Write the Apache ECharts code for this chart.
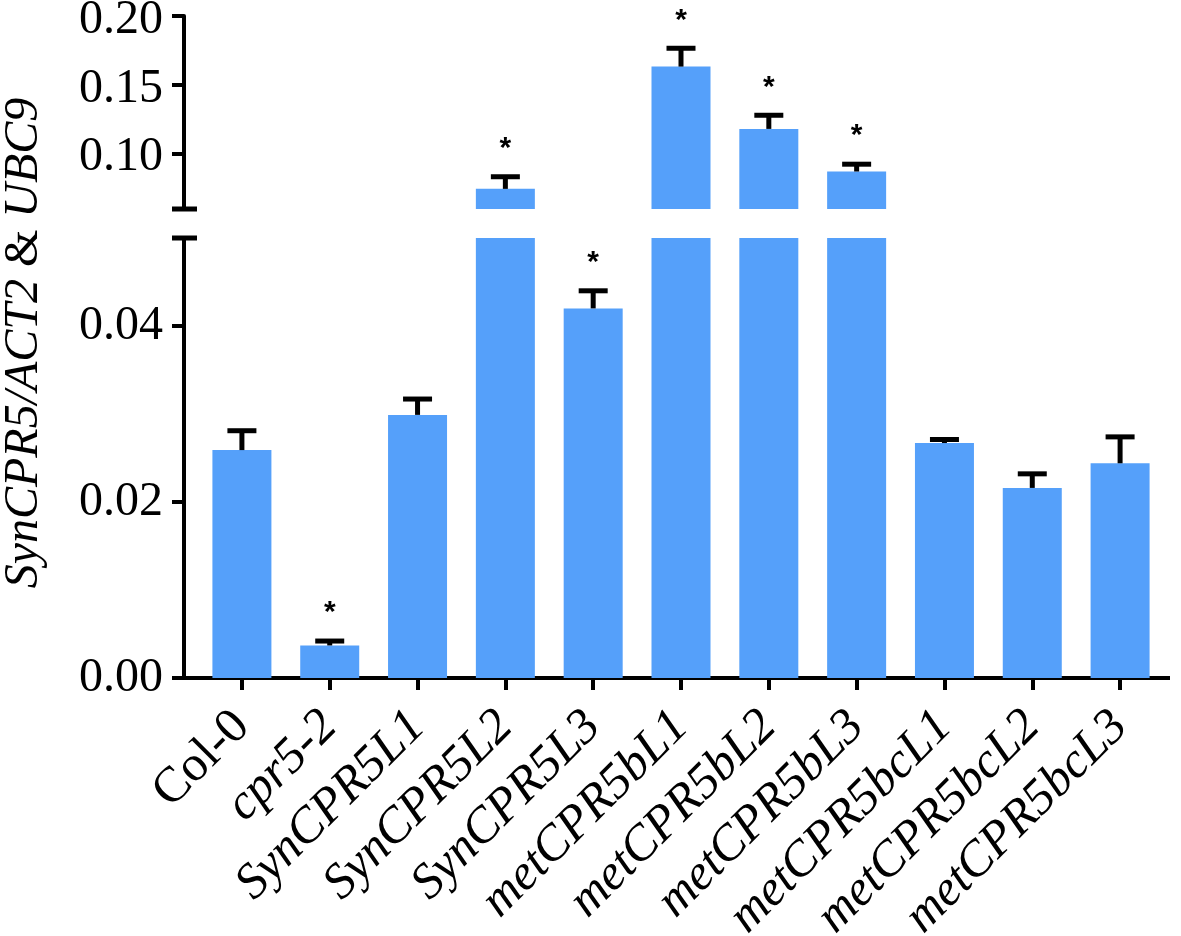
<!DOCTYPE html>
<html><head><meta charset="utf-8">
<script src="https://cdn.jsdelivr.net/npm/echarts@6/dist/echarts.min.js"></script>
<style>html,body{margin:0;padding:0;background:#fff}#c{width:1181px;height:936px}</style>
</head><body><div id="c"></div>
<script>
const categories = ['Col-0','cpr5-2','SynCPR5L1','SynCPR5L2','SynCPR5L3','metCPR5bL1','metCPR5bL2','metCPR5bL3','metCPR5bcL1','metCPR5bcL2','metCPR5bcL3'];
const italicLabel = [false,true,true,true,true,true,true,true,true,true,true];
const means  = [0.0259, 0.0037, 0.0299, 0.0746, 0.0420, 0.1633, 0.1181, 0.0872, 0.0267, 0.0216, 0.0244];
const errors = [0.0022, 0.0005, 0.0018, 0.0088, 0.0020, 0.0133, 0.0099, 0.0053, 0.0004, 0.0016, 0.0030];
const significant = [false,true,false,true,true,true,true,true,false,false,false];
const lowerTicks = [0, 0.02, 0.04];
const upperTicks = [0.10, 0.15, 0.20];
const lowerRange = [0, 0.05];
const upperRange = [0.06, 0.20];

const SERIF = '"Liberation Serif", "Times New Roman", serif';
const BAR_COLOR = '#55a0fa';
const chart = echarts.init(document.getElementById('c'), null, {renderer:'canvas'});

function errItem(range, isUpper) {
  return function (params, api) {
    const i = api.value(0), m = api.value(1), e = api.value(2), s = api.value(3);
    const top = m + e;
    if (isUpper ? (m < range[0]) : (top > range[1])) return null;
    const pBar = api.coord([i, m]);
    const pTop = api.coord([i, top]);
    const capW = 29, capH = 5, stemW = 5;
    const children = [
      {type:'rect', shape:{x:pTop[0]-stemW/2, y:pTop[1], width:stemW, height:pBar[1]-pTop[1]}, style:{fill:'#000'}},
      {type:'rect', shape:{x:pTop[0]-capW/2, y:pTop[1]-capH/2, width:capW, height:capH}, style:{fill:'#000'}}
    ];
    if (s) {
      children.push({type:'text', x:pTop[0], y:pTop[1]-28, style:{text:'*', fill:'#000', font:'bold 30px "Liberation Sans", Arial, sans-serif', align:'center', verticalAlign:'middle'}});
    }
    return {type:'group', children};
  };
}
const errData = means.map((m, i) => [i, m, errors[i], significant[i] ? 1 : 0]);

const yAxisCommon = {
  type:'value', offset:14,
  axisLine:{show:true, lineStyle:{color:'#000', width:4}},
  axisTick:{show:true, length:12, lineStyle:{color:'#000', width:4}},
  splitLine:{show:false},
  axisLabel:{color:'#000', fontFamily:SERIF, fontSize:48, margin:21, formatter: v => v.toFixed(2)}
};

chart.setOption({
  animation:false,
  backgroundColor:'#fff',
  grid:[
    {left:198, right:17, top:16, height:193, containLabel:false, outerBoundsMode:'none'},
    {left:198, right:17, top:238, bottom:258, containLabel:false, outerBoundsMode:'none'}
  ],
  xAxis:[
    {type:'category', gridIndex:0, data:categories, show:false},
    {type:'category', gridIndex:1, data:categories,
      axisLine:{show:false},
      axisTick:{show:true, alignWithLabel:true, length:12, lineStyle:{color:'#000', width:4}},
      axisLabel:{interval:0, rotate:45, margin:41, color:'#000',
        formatter:(v, idx) => (italicLabel[idx] ? '{i|' : '{n|') + v + '}',
        rich:{
          i:{fontFamily:SERIF, fontStyle:'italic', fontSize:50, color:'#000'},
          n:{fontFamily:SERIF, fontSize:50, color:'#000'}
        }}
    }
  ],
  yAxis:[
    Object.assign({}, yAxisCommon, {gridIndex:0, min:upperRange[0], max:upperRange[1],
      axisTick:Object.assign({}, yAxisCommon.axisTick, {customValues:upperTicks}),
      axisLabel:Object.assign({}, yAxisCommon.axisLabel, {customValues:upperTicks,
        formatter: v => '{v|' + v.toFixed(2) + '}',
        rich:{v:{fontFamily:SERIF, fontSize:48, color:'#000', lineHeight:56, verticalAlign:'bottom'}}})}),
    Object.assign({}, yAxisCommon, {gridIndex:1, min:lowerRange[0], max:lowerRange[1],
      axisTick:Object.assign({}, yAxisCommon.axisTick, {customValues:lowerTicks}),
      axisLabel:Object.assign({}, yAxisCommon.axisLabel, {customValues:lowerTicks})})
  ],
  series:[
    {type:'bar', xAxisIndex:0, yAxisIndex:0, barWidth:59, clip:true,
      itemStyle:{color:BAR_COLOR},
      data: means.map(m => m >= upperRange[0] ? m : '-')},
    {type:'bar', xAxisIndex:1, yAxisIndex:1, barWidth:59, clip:true,
      itemStyle:{color:BAR_COLOR},
      data: means},
    {type:'custom', xAxisIndex:0, yAxisIndex:0, renderItem:errItem(upperRange, true), data:errData, z:5, clip:false},
    {type:'custom', xAxisIndex:1, yAxisIndex:1, renderItem:errItem(lowerRange, false), data:errData, z:5, clip:false}
  ]
});

// axis decorations: break caps, x axis line, y title
const axX = 184;
const yUpperBottom = chart.convertToPixel({yAxisIndex:0}, upperRange[0]);
const yLowerTop = chart.convertToPixel({yAxisIndex:1}, lowerRange[1]);
const yZero = chart.convertToPixel({yAxisIndex:1}, lowerRange[0]);
chart.setOption({
  graphic:[
    {type:'line', shape:{x1:172, y1:yUpperBottom, x2:197, y2:yUpperBottom}, style:{stroke:'#000', lineWidth:5}},
    {type:'line', shape:{x1:172, y1:yLowerTop, x2:197, y2:yLowerTop}, style:{stroke:'#000', lineWidth:5}},
    {type:'line', shape:{x1:axX-2, y1:yZero, x2:1170, y2:yZero}, style:{stroke:'#000', lineWidth:4}},
    {type:'text', x:24, y:343, rotation:Math.PI/2,
      style:{text:'{i|SynCPR5/ACT2}{n| & }{i|UBC9}', align:'center', verticalAlign:'middle',
        rich:{
          i:{fontFamily:SERIF, fontStyle:'italic', fontSize:48, fill:'#000'},
          n:{fontFamily:SERIF, fontSize:48, fill:'#000'}
        }}}
  ]
});
</script></body></html>
